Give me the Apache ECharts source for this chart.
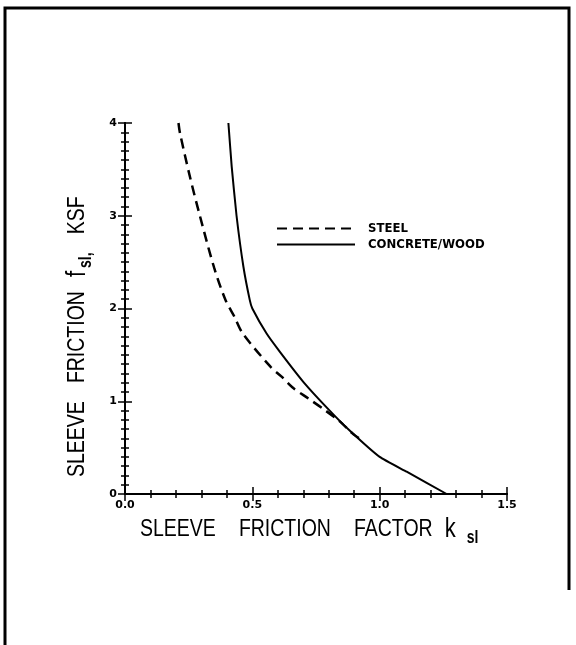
<!DOCTYPE html>
<html>
<head>
<meta charset="utf-8">
<script src="https://cdn.jsdelivr.net/npm/echarts@6/dist/echarts.min.js"></script>
<style>
  html, body { margin: 0; padding: 0; background: #fff; }
  #chart { width: 576px; height: 645px; }
</style>
</head>
<body>
<div id="chart"></div>
<script>
// Sleeve friction factor k_sl versus sleeve friction f_sl (KSF)
const steelK = [0.21, 0.216, 0.255, 0.294, 0.35, 0.395, 0.43, 0.462, 0.572, 0.615, 0.657, 0.72, 0.779, 0.84, 0.893, 0.92];
const steelF = [4.0, 3.89, 3.42, 3.0, 2.44, 2.09, 1.91, 1.733, 1.37, 1.265, 1.15, 1.03, 0.916, 0.79, 0.654, 0.60];

const concreteK = [0.406, 0.419, 0.438, 0.465, 0.49, 0.50, 0.556, 0.609, 0.70, 0.80, 0.88, 1.00, 1.106, 1.263];
const concreteF = [4.0, 3.53, 3.0, 2.45, 2.09, 2.0, 1.73, 1.53, 1.21, 0.91, 0.69, 0.40, 0.24, 0.0];

const xTicks = [0.0, 0.5, 1.0, 1.5];
const yTicks = [0, 1, 2, 3, 4];

const seriesNames = ['STEEL', 'CONCRETE/WOOD'];

const pairs = (xs, ys) => xs.map((x, i) => [x, ys[i]]);

const chart = echarts.init(document.getElementById('chart'), null, { renderer: 'canvas' });

const tickFont = { color: '#000', fontFamily: 'DejaVu Sans', fontWeight: 'bold', fontSize: 11 };
const axisLine = { show: true, lineStyle: { color: '#000', width: 2 } };

const grid = { left: 125, top: 123, right: 69, bottom: 151 };

const xBase = {
  type: 'value', min: xTicks[0], max: xTicks[xTicks.length - 1], interval: 0.5,
  axisLine, splitLine: { show: false },
  axisTick: { show: true, inside: true, length: 7, lineStyle: { color: '#000', width: 1.5 } },
  minorTick: { show: true, splitNumber: 5, length: 4, lineStyle: { color: '#000', width: 1.5 } }
};
const yBase = {
  type: 'value', min: yTicks[0], max: yTicks[yTicks.length - 1], interval: 1,
  axisLine, splitLine: { show: false },
  axisTick: { show: true, inside: true, length: 7, lineStyle: { color: '#000', width: 1.5 } },
  minorTick: { show: true, splitNumber: 10, length: 4, lineStyle: { color: '#000', width: 1.5 } }
};

chart.setOption({
  animation: false,
  backgroundColor: '#fff',
  color: ['#000', '#000'],
  grid,
  legend: {
    orient: 'vertical',
    left: 276, top: 222,
    padding: 0,
    itemWidth: 78, itemHeight: 12, itemGap: 3,
    data: seriesNames,
    itemStyle: { opacity: 0 },
    textStyle: {
      color: '#000', fontFamily: 'DejaVu Sans Condensed, DejaVu Sans', fontWeight: 'bold',
      fontSize: 13, padding: [0, 0, 0, 8]
    }
  },
  xAxis: [
    Object.assign({}, xBase, {
      position: 'bottom',
      axisLabel: Object.assign({ margin: 6, formatter: v => v.toFixed(1) }, tickFont)
    }),
    Object.assign({}, xBase, { position: 'top', axisLabel: { show: false } })
  ],
  yAxis: [
    Object.assign({}, yBase, {
      position: 'left',
      axisLabel: Object.assign({ margin: 8, formatter: v => String(v) }, tickFont)
    }),
    Object.assign({}, yBase, { position: 'right', axisLabel: { show: false } })
  ],
  series: [
    {
      name: seriesNames[0], type: 'line', xAxisIndex: 0, yAxisIndex: 0,
      data: pairs(steelK, steelF), symbol: 'none', smooth: 0.3,
      itemStyle: { color: '#000' },
      lineStyle: { color: '#000', width: 2.5, type: [10, 6] }
    },
    {
      name: seriesNames[1], type: 'line', xAxisIndex: 0, yAxisIndex: 0,
      data: pairs(concreteK, concreteF), symbol: 'none', smooth: 0.15,
      itemStyle: { color: '#000' },
      lineStyle: { color: '#000', width: 2, type: 'solid' }
    }
  ],
  graphic: [
    // page frame (left, top and right edges)
    { type: 'polyline', shape: { points: [[5, 645], [5, 8], [569, 8], [569, 590]] },
      style: { stroke: '#000', lineWidth: 3, fill: null } },
    // x-axis title
    {
      type: 'text', left: 140, top: 516, scaleY: 1.25,
      style: {
        text: '{w|SLEEVE}{w|FRICTION}{v|FACTOR}{k|k}{s|sl}',
        rich: {
          w: { fontFamily: 'Liberation Sans', fontSize: 19.5, color: '#000', padding: [0, 23, 0, 0] },
          v: { fontFamily: 'Liberation Sans', fontSize: 19.5, color: '#000', padding: [0, 12, 0, 0] },
          k: { fontFamily: 'Liberation Sans', fontSize: 22, color: '#000', padding: [0, 11, 0, 0] },
          s: { fontFamily: 'Liberation Sans', fontSize: 14, fontWeight: 'bold', color: '#000', padding: [14, 0, 0, 0] }
        }
      }
    },
    // y-axis title
    {
      type: 'text', x: 77, y: 477, rotation: Math.PI / 2, scaleY: 1.25,
      style: {
        text: '{w|SLEEVE}{v|FRICTION}{f|f}{s|sl,}{w|KSF}',
        verticalAlign: 'middle', align: 'left',
        rich: {
          w: { fontFamily: 'Liberation Sans', fontSize: 19.5, color: '#000', padding: [0, 18, 0, 0] },
          v: { fontFamily: 'Liberation Sans', fontSize: 19.5, color: '#000', padding: [0, 14, 0, 0] },
          f: { fontFamily: 'Liberation Sans', fontSize: 22, color: '#000', padding: [0, 3, 0, 0] },
          s: { fontFamily: 'Liberation Sans', fontSize: 14, fontWeight: 'bold', color: '#000', padding: [14, 18, 0, 0] }
        }
      }
    }
  ]
});
</script>
</body>
</html>
